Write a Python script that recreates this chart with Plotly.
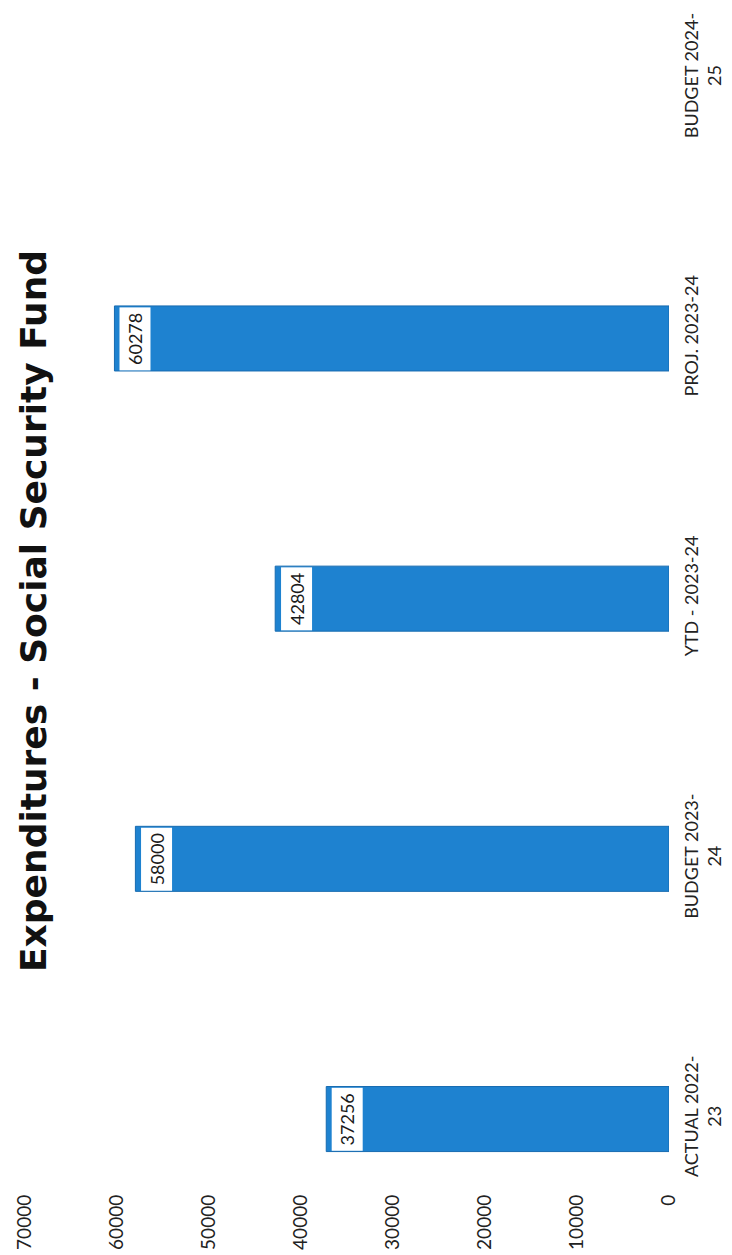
import plotly.graph_objects as go

categories = ["ACTUAL 2022-23", "BUDGET 2023-24", "YTD - 2023-24", "PROJ. 2023-24", "BUDGET 2024-25"]
category_labels = ["ACTUAL 2022-<br>23", "BUDGET 2023-<br>24", "YTD - 2023-24", "PROJ. 2023-24", "BUDGET 2024-<br>25"]
expenditures = [37256, 58000, 42804, 60278, None]
value_ticks = [0, 10000, 20000, 30000, 40000, 50000, 60000, 70000]
value_tick_labels = ["0", "10000", "20000", "30000", "40000", "50000", "60000", "70000"]
title_text = "Expenditures - Social Security Fund"

W, H = 732, 1255
ML, MR, MT, MB = 17, 71, 0, 75

fig = go.Figure()
fig.add_trace(go.Bar(
    y=categories,
    x=expenditures,
    orientation="h",
    width=0.25,
    marker=dict(color="#1e82d0", line=dict(color="#176bb0", width=1)),
    hoverinfo="skip",
))

for cat, val in zip(categories, expenditures):
    if val is None:
        continue
    fig.add_annotation(
        x=val, y=cat, xref="x", yref="y",
        text=str(val), textangle=-90,
        showarrow=False, xanchor="left", yanchor="middle", xshift=5,
        width=60, height=28,
        bgcolor="white", borderpad=1,
        font=dict(family="Lato", size=18, color="#1a1a1a"),
    )

plot_w = W - ML - MR
plot_h = H - MT - MB
fig.add_annotation(
    x=(25 - ML) / plot_w, y=1 - 603 / plot_h, xref="paper", yref="paper",
    text="<b>" + title_text + "</b>", textangle=-90, showarrow=False,
    xanchor="center", yanchor="middle",
    font=dict(family="DejaVu Sans", size=36, color="#111111"),
)

fig.update_layout(
    width=W, height=H,
    margin=dict(l=ML, r=MR, t=MT, b=MB, pad=0),
    paper_bgcolor="white", plot_bgcolor="white",
    showlegend=False,
    bargap=0.75,
    xaxis=dict(
        range=[70000, 0], tickvals=value_ticks, ticktext=value_tick_labels,
        tickangle=-90, showgrid=False, zeroline=False, showline=False,
        ticks="", automargin=False, ticklabelstandoff=2,
        tickfont=dict(family="Lato", size=19, color="#222222"),
    ),
    yaxis=dict(
        type="category", categoryorder="array", categoryarray=categories,
        range=[-0.265, 4.27], side="right",
        tickvals=categories, ticktext=category_labels,
        tickangle=-90, showgrid=False, zeroline=False, showline=False,
        ticks="", automargin=False, ticklabelstandoff=10,
        tickfont=dict(family="Lato", size=18, color="#222222"),
    ),
)

fig.write_html("out.html")
